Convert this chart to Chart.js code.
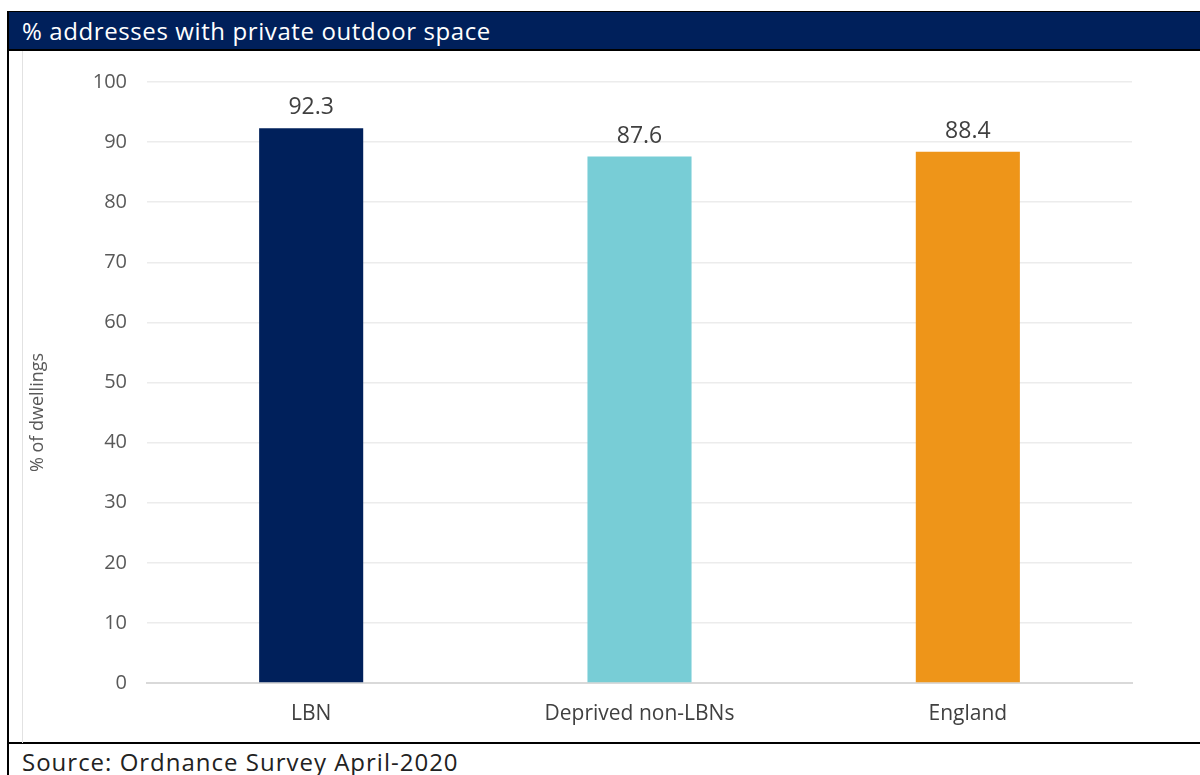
<!DOCTYPE html>
<html>
<head>
<meta charset="utf-8">
<script src="https://cdn.jsdelivr.net/npm/chart.js@4.4.1/dist/chart.umd.min.js"></script>
<style>
  html, body { margin: 0; padding: 0; background: #fff; }
  body { width: 1200px; height: 775px; position: relative; overflow: hidden; font-family: 'Open Sans', sans-serif; }
  .frame { position: absolute; left: 7px; top: 11px; width: 1200px; height: 733px; border-left: 2px solid #000; border-top: 2px solid #000; border-bottom: 2px solid #000; box-sizing: border-box; }
  .title { position: absolute; left: 9px; top: 12px; width: 1191px; height: 37px; background: #00205B; border-bottom: 2px solid #000; color: #fff; font-size: 24px; letter-spacing: 0.6px; line-height: 37px; padding-left: 13px; box-sizing: content-box; }
  .inner { position: absolute; left: 22px; top: 51px; width: 1px; height: 692px; background: #e2e2e2; }
  .wrap { position: absolute; left: 23px; top: 50px; width: 1157px; height: 693px; }
  .source { position: absolute; left: 9px; top: 747px; color: #222; font-size: 24px; letter-spacing: 1px; line-height: 30px; padding-left: 13px; }
  .leftline { position: absolute; left: 7px; top: 744px; width: 2px; height: 31px; background: #000; }
</style>
</head>
<body>
<div class="frame"></div>
<div class="title">% addresses with private outdoor space</div>
<div class="inner"></div>
<div class="wrap"><canvas id="chart"></canvas></div>
<div class="leftline"></div>
<div class="source">Source: Ordnance Survey April-2020</div>
<script>
const categories = ['LBN', 'Deprived non-LBNs', 'England'];
const values = [92.3, 87.6, 88.4];
const barColors = ['#00205B', '#78CDD6', '#EE9519'];
const yTicks = [0, 10, 20, 30, 40, 50, 60, 70, 80, 90, 100];
const yTitle = '% of dwellings';

Chart.defaults.font.family = "'Open Sans', sans-serif";
Chart.defaults.color = '#595959';

// value labels above each bar, plus the y axis caption (sits a little below centre)
const valueLabels = {
  id: 'valueLabels',
  afterDatasetsDraw(chart) {
    const ctx = chart.ctx;
    const meta = chart.getDatasetMeta(0);
    ctx.save();
    ctx.fillStyle = '#404040';
    ctx.font = "23px 'Open Sans', sans-serif";
    ctx.textAlign = 'center';
    ctx.textBaseline = 'bottom';
    meta.data.forEach((bar, i) => {
      ctx.fillText(values[i].toFixed(1), bar.x, bar.y - 9);
    });
    const area = chart.chartArea;
    ctx.translate(15, (area.top + area.bottom) / 2 + 30);
    ctx.rotate(-Math.PI / 2);
    ctx.fillStyle = '#595959';
    ctx.font = "18px 'Open Sans', sans-serif";
    ctx.textBaseline = 'middle';
    ctx.fillText(yTitle, 0, 0);
    ctx.restore();
  }
};

new Chart(document.getElementById('chart'), {
  type: 'bar',
  data: {
    labels: categories,
    datasets: [{
      data: values,
      backgroundColor: barColors,
      borderWidth: 0,
      categoryPercentage: 1,
      barPercentage: 0.317
    }]
  },
  options: {
    responsive: true,
    maintainAspectRatio: false,
    animation: false,
    layout: { padding: { top: 30, right: 48, left: 0, bottom: 0 } },
    plugins: { legend: { display: false }, tooltip: { enabled: false } },
    scales: {
      x: {
        grid: { display: false, drawTicks: false },
        border: { color: '#d9d9d9', width: 2 },
        ticks: { color: '#404040', font: { size: 21 }, padding: 18 },
        afterFit: s => { s.height = 60; }
      },
      y: {
        min: 0, max: 100,
        afterBuildTicks: s => { s.ticks = yTicks.map(v => ({ value: v })); },
        grid: { color: '#ececec', lineWidth: 1.5, drawTicks: false },
        border: { display: false },
        ticks: { color: '#595959', font: { size: 20 }, padding: 20 },
        afterFit: s => { s.width = 124; }
      }
    }
  },
  plugins: [valueLabels]
});
</script>
</body>
</html>
